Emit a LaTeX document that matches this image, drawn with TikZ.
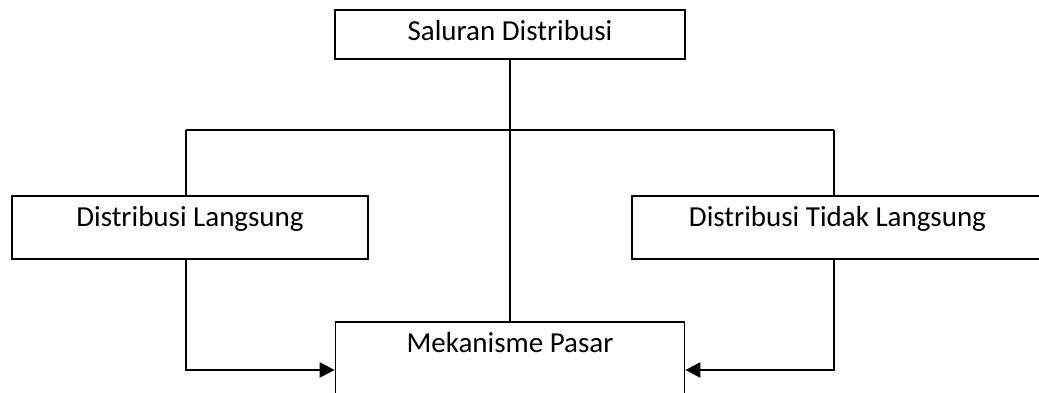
\documentclass[tikz,border=0pt]{standalone}
\usepackage{fontspec}
\setmainfont{Carlito}
\usetikzlibrary{arrows.meta, positioning, calc}

\begin{document}
\begin{tikzpicture}[
    box/.style={draw, line width=1pt, inner sep=0pt, text height=0.6cm, font=\fontsize{16.5}{20}\selectfont},
    link/.style={line width=1.3pt},
    arrow/.style={line width=1.3pt, -{Triangle[length=0.3cm, width=0.3cm]}}
  ]
  \clip (0,0) rectangle (20.78,7.84);

  % Top box
  \node[box, minimum width=7cm, text depth=0.38cm] (saluran) at (10.2,7.15) {Saluran Distribusi};

  % Middle row
  \node[box, minimum width=7.12cm, text depth=0.66cm] (langsung) at (3.8,3.29) {Distribusi Langsung};
  \node[box, minimum width=8.22cm, text depth=0.66cm] (tidak) at (16.75,3.29) {Distribusi Tidak Langsung};

  % Bottom box
  \node[box, minimum width=6.98cm, text depth=0.96cm] (pasar) at (10.2,0.62) {Mekanisme Pasar};

  % Branch points
  \coordinate (lsplit) at (3.72,5.24);
  \coordinate (rsplit) at (16.68,5.24);
  \coordinate (lend) at (pasar.west |- 0,0.44);
  \coordinate (rend) at (pasar.east |- 0,0.44);

  % Connectors
  \draw[link] (saluran.south) -- (pasar.north);
  \draw[link] (lsplit) -- (rsplit);
  \draw[link] (lsplit) -- (lsplit |- langsung.north);
  \draw[link] (rsplit) -- (rsplit |- tidak.north);
  \draw[arrow] (lsplit |- langsung.south) |- (lend);
  \draw[arrow] (rsplit |- tidak.south) |- (rend);
\end{tikzpicture}
\end{document}
